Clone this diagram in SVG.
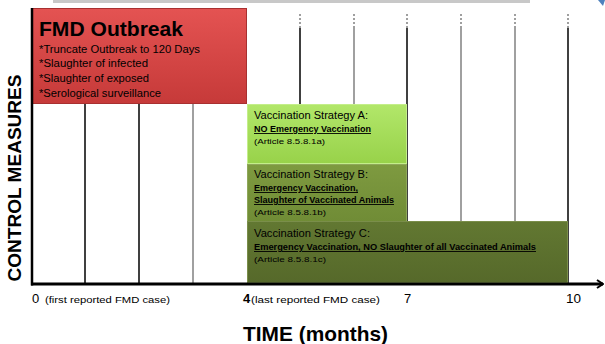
<svg xmlns="http://www.w3.org/2000/svg" width="605" height="344" viewBox="0 0 605 344">
<defs>
<linearGradient id="gRed" x1="0" y1="0" x2="0" y2="1">
<stop offset="0" stop-color="#e45352"/><stop offset="1" stop-color="#c63a39"/>
</linearGradient>
<linearGradient id="gA" x1="0" y1="0" x2="0" y2="1">
<stop offset="0" stop-color="#b2e76a"/><stop offset="1" stop-color="#98d24a"/>
</linearGradient>
<linearGradient id="gB" x1="0" y1="0" x2="0" y2="1">
<stop offset="0" stop-color="#7e9a40"/><stop offset="1" stop-color="#708c36"/>
</linearGradient>
<linearGradient id="gC" x1="0" y1="0" x2="0" y2="1">
<stop offset="0" stop-color="#627832"/><stop offset="1" stop-color="#56692a"/>
</linearGradient>
<marker id="arr" markerWidth="8" markerHeight="10" refX="7" refY="5" orient="auto" markerUnits="userSpaceOnUse">
<path d="M1,1 L7,5 L1,9" fill="none" stroke="#000" stroke-width="2"/>
</marker>
</defs>
<style>
.t{font-family:"Liberation Sans",Arial,sans-serif;fill:#000}
.b{font-weight:bold}
.u{text-decoration:underline}
.gk{stroke:#000;stroke-width:1.5}
.gg{stroke:#808080;stroke-width:1.5}
.dash{stroke:#808080;stroke-width:1.5;stroke-dasharray:2,2}
</style>
<rect width="605" height="344" fill="#fff"/>
<rect x="53" y="0" width="477" height="3" fill="#c8c8c8"/>
<path d="M598,0 L605,0 L603,6 Z" fill="#4f81bd"/>

<g id="grid">
<line class="gk" x1="85" y1="103" x2="85" y2="284"/>
<line class="gk" x1="139" y1="103" x2="139" y2="284"/>
<line class="gg" x1="193" y1="103" x2="193" y2="284"/>
<line class="dash" x1="300" y1="14" x2="300" y2="28"/><line class="gk" x1="300" y1="28" x2="300" y2="284"/>
<line class="dash" x1="354" y1="14" x2="354" y2="28"/><line class="gg" x1="354" y1="28" x2="354" y2="284"/>
<line class="dash" x1="407" y1="14" x2="407" y2="28"/><line class="gk" x1="407" y1="28" x2="407" y2="284"/>
<line class="dash" x1="461" y1="14" x2="461" y2="28"/><line class="gg" x1="461" y1="28" x2="461" y2="284"/>
<line class="dash" x1="515" y1="14" x2="515" y2="28"/><line class="gg" x1="515" y1="28" x2="515" y2="284"/>
<line class="dash" x1="568" y1="14" x2="568" y2="28"/><line class="gk" x1="568" y1="28" x2="568" y2="284"/>
</g>

<g id="outbreak">
<rect x="31.5" y="8.5" width="215" height="95" fill="url(#gRed)" stroke="#a83030" stroke-width="1"/>
<text class="t b" x="39" y="36" font-size="21" textLength="144" lengthAdjust="spacingAndGlyphs">FMD Outbreak</text>
<text class="t" x="39" y="53" font-size="10" textLength="161" lengthAdjust="spacingAndGlyphs">*Truncate Outbreak to 120 Days</text>
<text class="t" x="39" y="67" font-size="10" textLength="109" lengthAdjust="spacingAndGlyphs">*Slaughter of infected</text>
<text class="t" x="39" y="82" font-size="10" textLength="110" lengthAdjust="spacingAndGlyphs">*Slaughter of exposed</text>
<text class="t" x="39" y="97" font-size="10" textLength="122" lengthAdjust="spacingAndGlyphs">*Serological surveillance</text>
</g>

<g id="strategyA">
<rect x="247.5" y="104.5" width="159" height="59" fill="url(#gA)" stroke="#c4ee8a" stroke-width="1"/>
<text class="t" x="254" y="119" font-size="10" textLength="114" lengthAdjust="spacingAndGlyphs">Vaccination Strategy A:</text>
<text class="t b u" x="254" y="132" font-size="9" textLength="117" lengthAdjust="spacingAndGlyphs">NO Emergency Vaccination</text>
<text class="t" x="254" y="144" font-size="8" textLength="71" lengthAdjust="spacingAndGlyphs">(Article 8.5.8.1a)</text>
</g>

<g id="strategyB">
<rect x="247.5" y="164.5" width="159" height="57" fill="url(#gB)" stroke="#8fa85a" stroke-width="1"/>
<text class="t" x="254" y="178" font-size="10" textLength="114" lengthAdjust="spacingAndGlyphs">Vaccination Strategy B:</text>
<text class="t b u" x="254" y="191" font-size="9" textLength="104" lengthAdjust="spacingAndGlyphs">Emergency Vaccination,</text>
<text class="t b u" x="254" y="203" font-size="9" textLength="140" lengthAdjust="spacingAndGlyphs">Slaughter of Vaccinated Animals</text>
<text class="t" x="254" y="215" font-size="8" textLength="72" lengthAdjust="spacingAndGlyphs">(Article 8.5.8.1b)</text>
</g>

<g id="strategyC">
<rect x="247.5" y="221.5" width="320" height="61" fill="url(#gC)" stroke="#7a8e4a" stroke-width="1"/>
<text class="t" x="254" y="237" font-size="10" textLength="116" lengthAdjust="spacingAndGlyphs">Vaccination Strategy C:</text>
<text class="t b u" x="254" y="250" font-size="9" textLength="282" lengthAdjust="spacingAndGlyphs">Emergency Vaccination, NO Slaughter of all Vaccinated Animals</text>
<text class="t" x="254" y="262" font-size="8" textLength="72" lengthAdjust="spacingAndGlyphs">(Article 8.5.8.1c)</text>
</g>

<g id="axes">
<line x1="32" y1="8" x2="32" y2="285.5" stroke="#000" stroke-width="2.5"/>
<line x1="31" y1="284" x2="603" y2="284" stroke="#000" stroke-width="3" marker-end="url(#arr)"/>
</g>

<g id="labels">
<text class="t b" transform="translate(21,178) rotate(-90)" text-anchor="middle" font-size="19" textLength="207" lengthAdjust="spacingAndGlyphs">CONTROL MEASURES</text>
<text class="t" x="32" y="303" font-size="13">0</text>
<text class="t" x="45" y="303" font-size="9" textLength="125" lengthAdjust="spacingAndGlyphs">(first reported FMD case)</text>
<text class="t b" x="243" y="303" font-size="13">4</text>
<text class="t" x="251" y="303" font-size="9" textLength="129" lengthAdjust="spacingAndGlyphs">(last reported FMD case)</text>
<text class="t" x="404" y="303" font-size="13">7</text>
<text class="t" x="566" y="303" font-size="13" textLength="15" lengthAdjust="spacingAndGlyphs">10</text>
<text class="t b" x="243" y="341" font-size="21" textLength="145" lengthAdjust="spacingAndGlyphs">TIME (months)</text>
</g>
</svg>
